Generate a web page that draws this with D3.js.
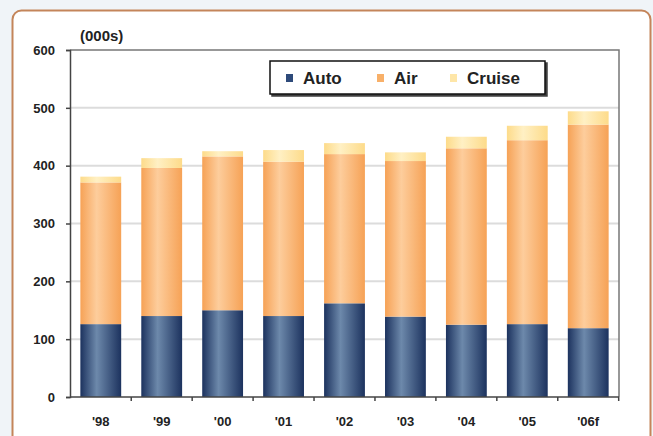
<!DOCTYPE html>
<html>
<head>
<meta charset="utf-8">
<script src="https://cdn.jsdelivr.net/npm/d3@7"></script>
<style>
  body { margin: 0; background: #f0f4f8; }
  svg text { font-family: "Liberation Sans", Arial, sans-serif; font-weight: bold; fill: #222; }
</style>
</head>
<body>
<div id="chart"></div>
<script>
// ---- DATA ----
const years = ["'98", "'99", "'00", "'01", "'02", "'03", "'04", "'05", "'06f"];
const auto = [126, 140, 150, 140, 162, 139, 125, 126, 119];
const air = [245, 256, 266, 267, 258, 269, 305, 318, 352];
const cruise = [10, 17, 9, 20, 19, 15, 20, 25, 23];
const seriesNames = ["Auto", "Air", "Cruise"];
const yTicks = [0, 100, 200, 300, 400, 500, 600];

const width = 653;
const height = 436;
const margin = { top: 50, right: 34, bottom: 39, left: 70 };

const svg = d3.select("#chart")
  .append("svg")
  .attr("width", width)
  .attr("height", height);

// ---- GRADIENTS ----
const colours = {
  Auto: ["#1c325e", "#6d89ab"],
  Air: ["#f6a256", "#fdcd9c"],
  Cruise: ["#fddb8a", "#fff0c4"]
};
const defs = svg.append("defs");
seriesNames.forEach(name => {
  const g = defs.append("linearGradient")
    .attr("id", "grad-" + name)
    .attr("x1", "0%").attr("x2", "100%")
    .attr("y1", "0%").attr("y2", "0%");
  g.append("stop").attr("offset", "0%").attr("stop-color", colours[name][0]);
  g.append("stop").attr("offset", "40%").attr("stop-color", colours[name][1]);
  g.append("stop").attr("offset", "100%").attr("stop-color", colours[name][0]);
});
const shadow = defs.append("filter").attr("id", "shadow")
  .attr("x", "-10%").attr("y", "-10%").attr("width", "130%").attr("height", "150%");
shadow.append("feDropShadow")
  .attr("dx", 2).attr("dy", 2).attr("stdDeviation", 0.6)
  .attr("flood-color", "#000").attr("flood-opacity", 0.75);

// ---- CARD ----
svg.append("rect")
  .attr("x", 12.5).attr("y", 10.5)
  .attr("width", 638).attr("height", 440)
  .attr("rx", 9)
  .attr("fill", "#fff")
  .attr("stroke", "#c4855a")
  .attr("stroke-width", 2);

// ---- SCALES ----
const x = d3.scaleBand()
  .domain(years)
  .range([margin.left, width - margin.right])
  .paddingInner(0.33)
  .paddingOuter(0.17);

const y = d3.scaleLinear()
  .domain([0, 600])
  .range([height - margin.bottom, margin.top]);

// ---- GRID ----
svg.append("g")
  .selectAll("line")
  .data(yTicks.filter(d => d > 0 && d < 600))
  .enter()
  .append("line")
  .attr("x1", margin.left)
  .attr("x2", width - margin.right)
  .attr("y1", d => y(d))
  .attr("y2", d => y(d))
  .attr("stroke", "#dcdcdc")
  .attr("stroke-width", 2);

// ---- FRAME (top, right) ----
svg.append("path")
  .attr("d", `M${margin.left},${y(600)}H${width - margin.right}V${y(0)}`)
  .attr("fill", "none")
  .attr("stroke", "#777")
  .attr("stroke-width", 1.5);

// ---- BARS ----
const table = years.map((yr, i) => ({ year: yr, Auto: auto[i], Air: air[i], Cruise: cruise[i] }));
const stacked = d3.stack().keys(seriesNames)(table);

svg.append("g")
  .selectAll("g")
  .data(stacked)
  .enter()
  .append("g")
  .attr("fill", d => `url(#grad-${d.key})`)
  .selectAll("rect")
  .data(d => d)
  .enter()
  .append("rect")
  .attr("x", d => x(d.data.year))
  .attr("y", d => y(d[1]))
  .attr("width", x.bandwidth())
  .attr("height", d => y(d[0]) - y(d[1]));

// ---- AXES ----
const yAxis = svg.append("g")
  .attr("transform", `translate(${margin.left},0)`)
  .call(d3.axisLeft(y).tickValues(yTicks).tickSize(4).tickPadding(11));
yAxis.select(".domain").attr("stroke", "#444").attr("stroke-width", 1.5);
yAxis.selectAll(".tick line").attr("stroke", "#444").attr("stroke-width", 1.5);
yAxis.selectAll("text").attr("font-size", 13).attr("fill", "#222");

const xAxis = svg.append("g")
  .attr("transform", `translate(0,${y(0)})`);
xAxis.append("line")
  .attr("x1", margin.left).attr("x2", width - margin.right)
  .attr("stroke", "#444").attr("stroke-width", 1.5);
// small ticks between categories
xAxis.selectAll("line.tk")
  .data(years)
  .enter()
  .append("line")
  .attr("class", "tk")
  .attr("x1", d => x(d) + x.bandwidth() + x.step() * x.paddingInner() / 2)
  .attr("x2", d => x(d) + x.bandwidth() + x.step() * x.paddingInner() / 2)
  .attr("y1", 0).attr("y2", 4)
  .attr("stroke", "#444").attr("stroke-width", 1.5);
xAxis.selectAll("text")
  .data(years)
  .enter()
  .append("text")
  .attr("x", d => x(d) + x.bandwidth() / 2)
  .attr("y", 29)
  .attr("text-anchor", "middle")
  .attr("font-size", 13)
  .text(d => d);

// ---- UNIT LABEL ----
svg.append("text")
  .attr("x", 80)
  .attr("y", 41)
  .attr("font-size", 15)
  .text("(000s)");

// ---- LEGEND ----
const legend = svg.append("g").attr("transform", "translate(270,61)");
legend.append("rect")
  .attr("width", 275).attr("height", 33)
  .attr("fill", "#fff")
  .attr("stroke", "#111")
  .attr("stroke-width", 1.5)
  .attr("filter", "url(#shadow)");
const legendX = [16, 107, 180];
const legendSwatch = { Auto: "#2e4a7a", Air: "#f8b069", Cruise: "#fee6a8" };
seriesNames.forEach((name, i) => {
  legend.append("rect")
    .attr("x", legendX[i]).attr("y", 13)
    .attr("width", 7).attr("height", 8)
    .attr("fill", legendSwatch[name]);
  legend.append("text")
    .attr("x", legendX[i] + 17)
    .attr("y", 23)
    .attr("font-size", 17)
    .text(name);
});
</script>
</body>
</html>
